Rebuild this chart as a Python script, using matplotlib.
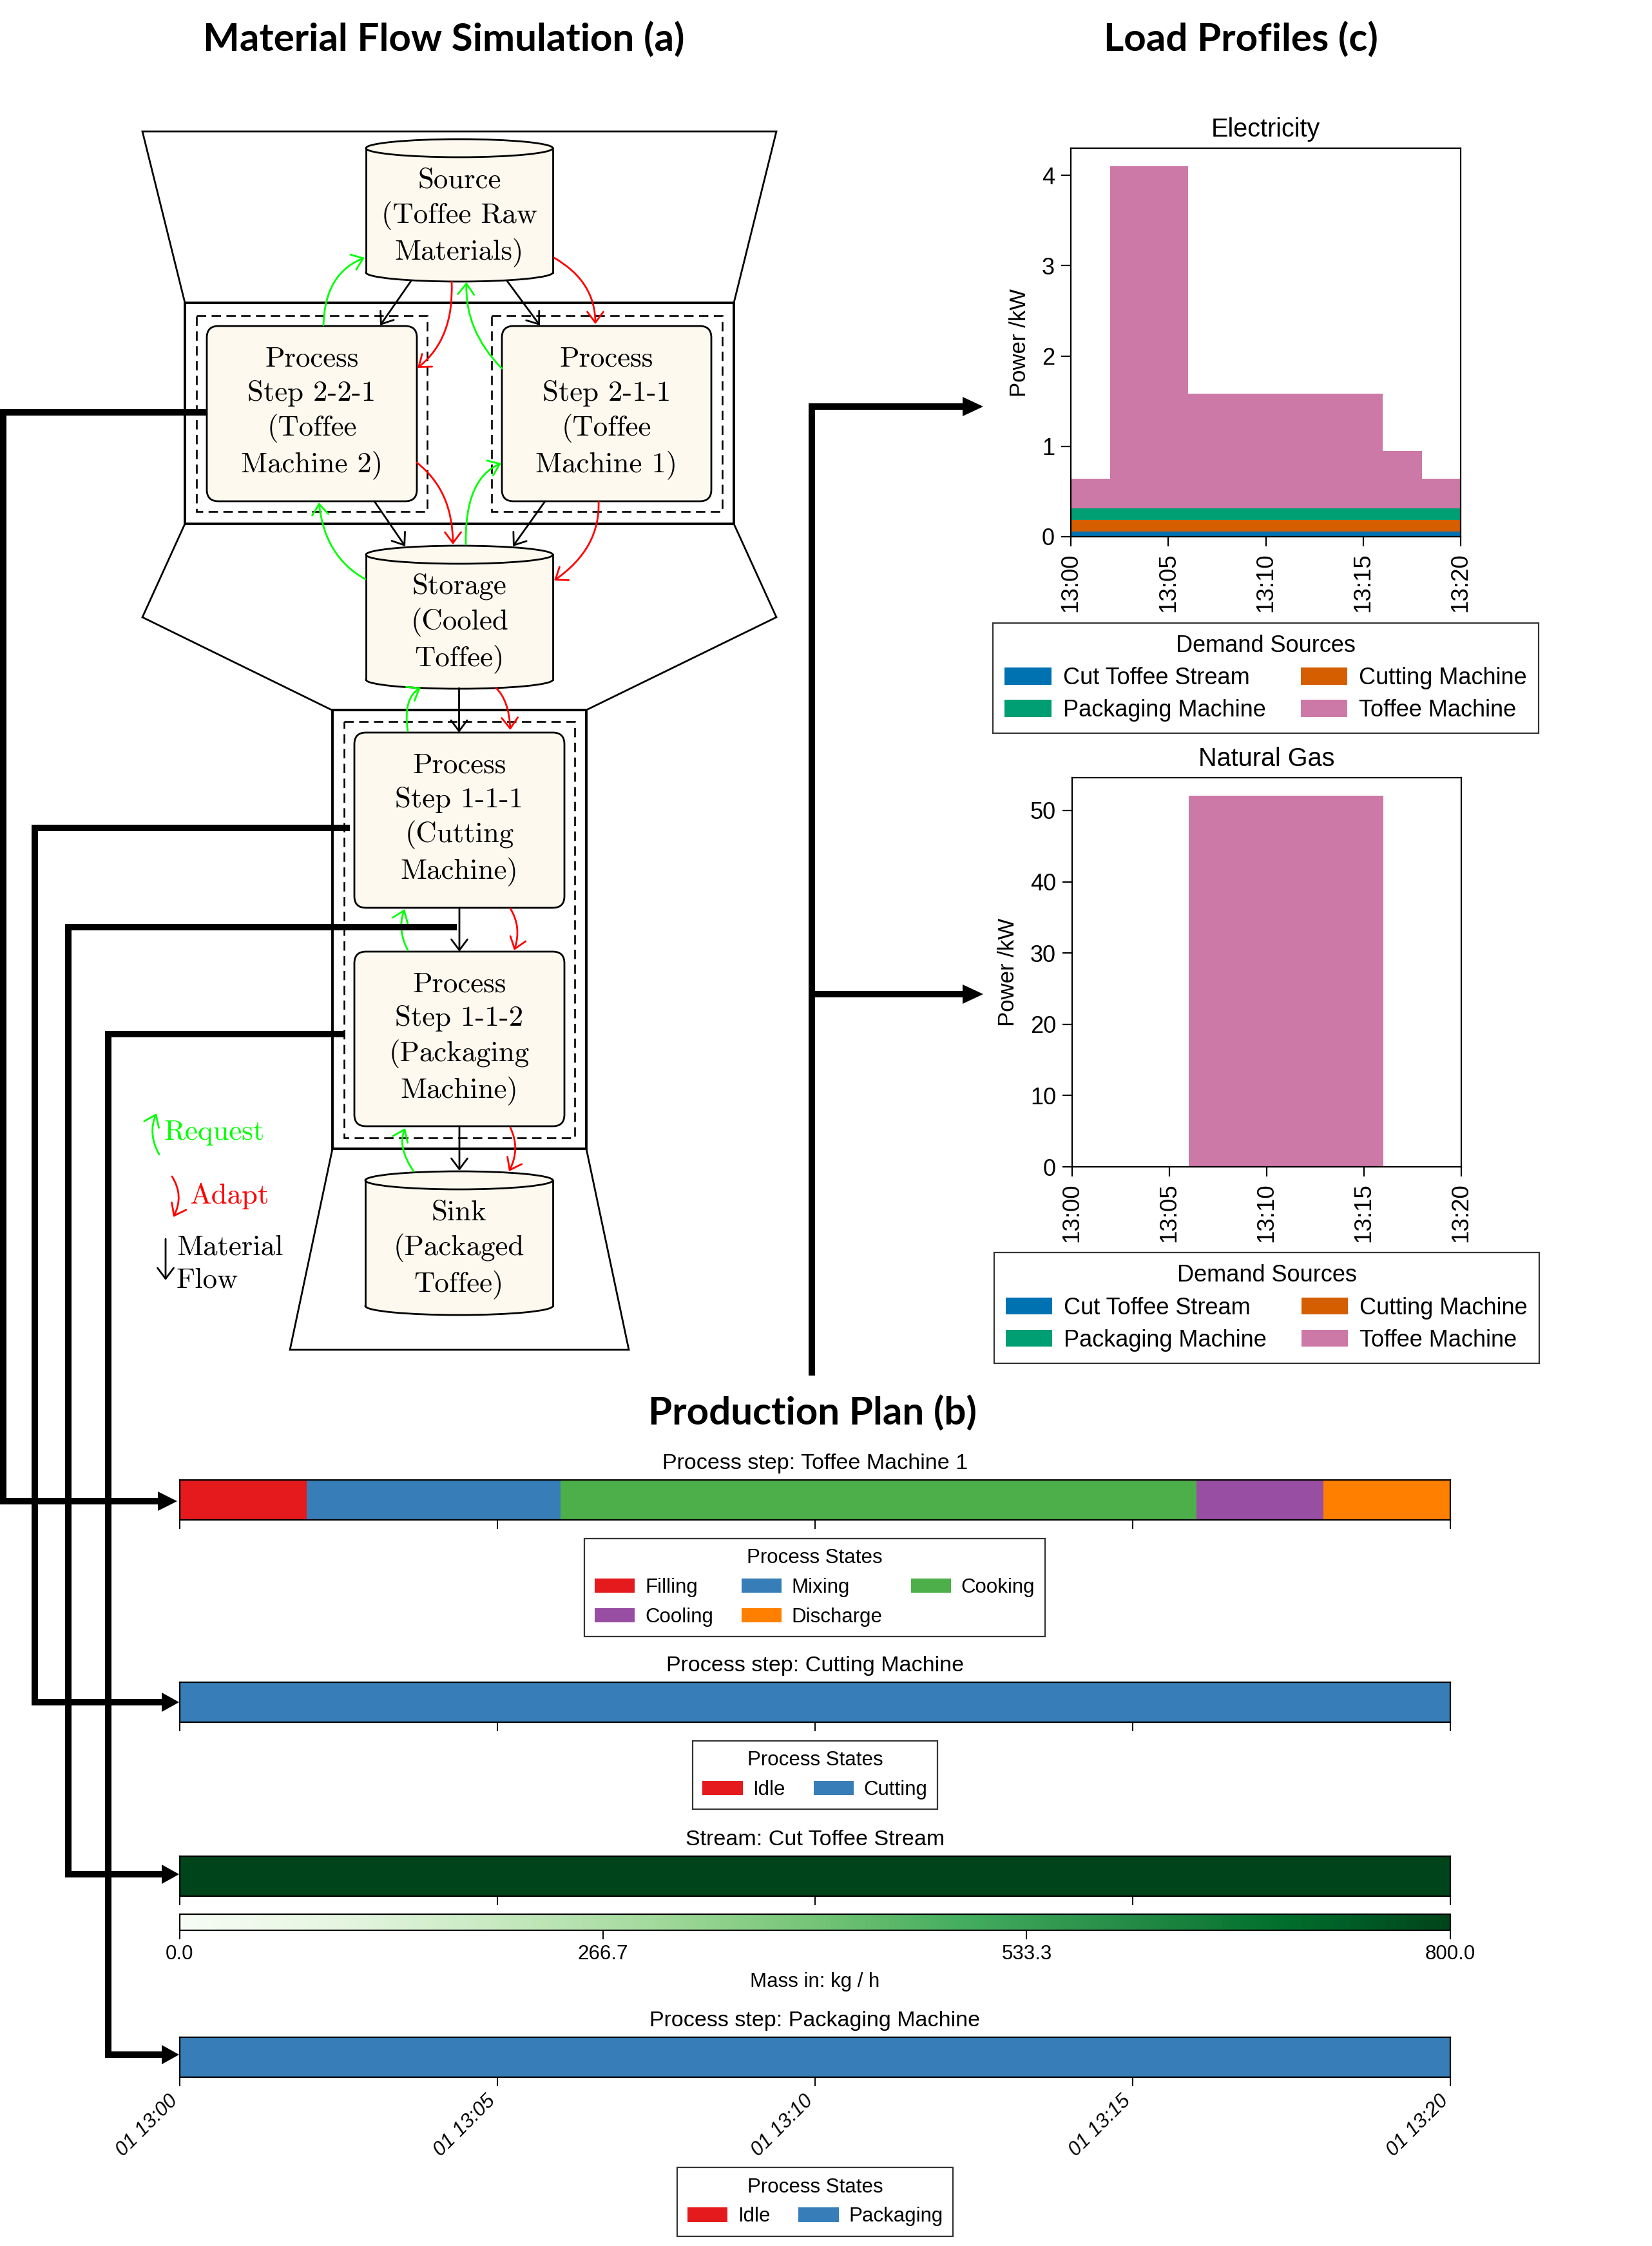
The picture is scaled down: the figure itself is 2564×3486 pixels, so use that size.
import matplotlib
matplotlib.use('Agg')
import matplotlib.pyplot as plt
from matplotlib.cm import ScalarMappable
from matplotlib.colors import Normalize
from matplotlib.patches import Ellipse, FancyArrowPatch, FancyBboxPatch, Patch, Polygon, Rectangle
from matplotlib.path import Path
from matplotlib.transforms import ScaledTranslation

W, H = 2564, 3486
SANS = 'Liberation Sans'
SERIF = 'cmr10'
HEAD = 'Lato'

# load profiles, minutes after 13:00
load_ticks = [0, 5, 10, 15, 20]
load_tick_labels = ['13:00', '13:05', '13:10', '13:15', '13:20']
elec_edges = [0, 2, 6, 16, 18, 20]
elec_cut_stream = [0.055, 0.055, 0.055, 0.055, 0.055, 0.055]
elec_cutting = [0.13, 0.13, 0.13, 0.13, 0.13, 0.13]
elec_packaging = [0.13, 0.13, 0.13, 0.13, 0.13, 0.13]
elec_toffee = [0.325, 3.785, 1.265, 0.635, 0.325, 0.325]
gas_edges = [0, 6, 16, 20]
gas_toffee = [0, 52.1, 0, 0]
elec_yticks = [0, 1, 2, 3, 4]
gas_yticks = [0, 10, 20, 30, 40, 50]

demand_names = ['Cut Toffee Stream', 'Packaging Machine', 'Cutting Machine', 'Toffee Machine']
demand_colors = ['#0072b2', '#009e73', '#d55e00', '#cc79a7']

# production plan, (start, duration) in minutes
toffee_states = ['Filling', 'Mixing', 'Cooking', 'Cooling', 'Discharge']
toffee_starts = [0, 2, 6, 16, 18]
toffee_durations = [2, 4, 10, 2, 2]
toffee_colors = ['#e41a1c', '#377eb8', '#4daf4a', '#984ea3', '#ff7f00']
gantt_ticks = [0, 5, 10, 15, 20]
gantt_tick_labels = ['01 13:00', '01 13:05', '01 13:10', '01 13:15', '01 13:20']
mass_ticks = [0.0, 266.7, 533.3, 800.0]
mass_max = 800.0


def ax_px(l, t, r, b):
    return fig.add_axes([l / W, 1 - b / H, (r - l) / W, (b - t) / H])


def cylinder(ax, x0, x1, top, bottom, ry, label, cy):
    cx = (x0 + x1) / 2
    w = x1 - x0
    ax.add_patch(Ellipse((cx, bottom), w, 2 * ry, fc=CREAM, ec='k', lw=LW, zorder=3))
    ax.add_patch(Rectangle((x0, top), w, bottom - top, fc=CREAM, ec='none', zorder=3))
    ax.plot([x0, x0], [top, bottom], color='k', lw=LW, zorder=3)
    ax.plot([x1, x1], [top, bottom], color='k', lw=LW, zorder=3)
    ax.add_patch(Ellipse((cx, top), w, 2 * ry, fc=CREAM, ec='k', lw=LW, zorder=3))
    box_text(ax, cx, cy, label)


def box_text(ax, x, y, label):
    ax.text(x, y, label, family=SERIF, fontsize=SERIF_SIZE, ha='center', va='center',
            linespacing=LINE_SP, zorder=5)


def process_box(ax, x0, y0, x1, y1, label):
    ax.add_patch(FancyBboxPatch((x0, y0), x1 - x0, y1 - y0,
                                boxstyle='round,pad=0,rounding_size=18',
                                fc=CREAM, ec='k', lw=LW, zorder=3))
    box_text(ax, (x0 + x1) / 2, (y0 + y1) / 2 - 1, label)


def frame(ax, x0, y0, x1, y1, lw, ls='-'):
    ax.add_patch(Rectangle((x0, y0), x1 - x0, y1 - y0, fc='none', ec='k', lw=lw, ls=ls, zorder=2))


def arrow(ax, a, b, c=None, color='k'):
    if c is None:
        c = ((a[0] + b[0]) / 2, (a[1] + b[1]) / 2)
    path = Path([a, c, b], [Path.MOVETO, Path.CURVE3, Path.CURVE3])
    ax.add_patch(FancyArrowPatch(path=path, arrowstyle='->,head_length=1.0,head_width=0.75',
                                 mutation_scale=12, color=color, lw=LW, zorder=4,
                                 shrinkA=0, shrinkB=0))


def thick_link(ax, pts, tip=None, base=None):
    xs = [p[0] for p in pts]
    ys = [p[1] for p in pts]
    ax.plot(xs, ys, color='k', lw=10 * 0.72, solid_capstyle='butt', solid_joinstyle='miter', zorder=6)
    if tip is not None:
        y = pts[-1][1]
        ax.add_patch(Polygon([(base, y - 15), (tip, y), (base, y + 15)], fc='k', ec='k', lw=0, zorder=6))


def style_load(ax, yticks, title):
    ax.set_xlim(0, 20)
    ax.set_xticks(load_ticks)
    ax.set_xticklabels(load_tick_labels, rotation=90, family=SANS, fontsize=26.5)
    ax.set_yticks(yticks)
    ax.tick_params(length=11, width=1.6, labelsize=26, pad=7)
    for lab in ax.get_yticklabels():
        lab.set_family(SANS)
    for lab in ax.get_xticklabels():
        lab.set_fontsize(26.5)
    for s in ax.spines.values():
        s.set_linewidth(1.6)
    ax.set_title(title, family=SANS, fontsize=28.5, pad=13)


def style_gantt(ax, title, show_labels=False):
    ax.set_xlim(0, 20)
    ax.set_ylim(0, 1)
    ax.set_yticks([])
    ax.set_xticks(gantt_ticks)
    ax.tick_params(axis='x', length=10, width=1.4, pad=6)
    if show_labels:
        ax.set_xticklabels(gantt_tick_labels, rotation=45, ha='right', rotation_mode='anchor',
                           family=SANS, fontsize=GANTT_SIZE, style='italic')
        # labels sit further left of their ticks in the original
        shift = ScaledTranslation(-18 / 100, 0, fig.dpi_scale_trans)
        for lab in ax.get_xticklabels():
            lab.set_transform(lab.get_transform() + shift)
    else:
        ax.set_xticklabels([])
    for s in ax.spines.values():
        s.set_linewidth(1.6)
    ax.set_title(title, family=SANS, fontsize=TITLE_SIZE, pad=12)


def make_legend(names, colors, title, cx, cy, ncol, size, hl, hh, colsp, labsp, pad):
    handles = [Patch(fc=c, ec='none') for c in colors]
    leg = fig.legend(handles, names, title=title, ncol=ncol, loc='center',
                     bbox_to_anchor=(cx / W, 1 - cy / H),
                     prop={'family': SANS, 'size': size},
                     title_fontproperties={'family': SANS, 'size': size},
                     handlelength=hl, handleheight=hh, handletextpad=0.5,
                     columnspacing=colsp, labelspacing=labsp, borderpad=pad,
                     fancybox=False, edgecolor='#333333', framealpha=1, borderaxespad=0)
    leg.get_frame().set_linewidth(1.6)
    return leg


CREAM = '#fdf9ef'
LW = 2.0
SERIF_SIZE = 32.3
LINE_SP = 1.365
GANTT_SIZE = 22.5
TITLE_SIZE = 24.5
DASH = (0, (5.5, 3.2))

fig = plt.figure(figsize=(W / 100, H / 100), dpi=100)

# diagram canvas in picture pixels
canvas = fig.add_axes([0, 0, 1, 1])
canvas.set_xlim(0, W)
canvas.set_ylim(H, 0)
canvas.axis('off')

for pts in ([(287, 470), (221, 204), (1205, 204), (1139, 470)],
            [(287, 813), (221, 958), (515, 1102), (910, 1102), (1205, 958), (1139, 813)],
            [(516, 1783), (450, 2095), (976, 2095), (910, 1783)]):
    canvas.add_patch(Polygon(pts, closed=False, fc='none', ec='k', lw=2.0, zorder=1))

frame(canvas, 287, 470, 1139, 813, 2.8)
frame(canvas, 516, 1102, 910, 1783, 2.8)
frame(canvas, 305, 490, 663, 794, 1.9, DASH)
frame(canvas, 763, 490, 1121, 794, 1.9, DASH)
frame(canvas, 533.5, 1119.5, 892, 1765.5, 1.9, DASH)

cylinder(canvas, 568, 858, 230, 423, 14, 'Source\n(Toffee Raw\nMaterials)', 337)
cylinder(canvas, 568, 858, 861, 1055, 14, 'Storage\n(Cooled\nToffee)', 967)
cylinder(canvas, 567, 858, 1832, 2027, 14, 'Sink\n(Packaged\nToffee)', 1939)
process_box(canvas, 321, 506, 647, 778, 'Process\nStep 2-2-1\n(Toffee\nMachine 2)')
process_box(canvas, 779, 506, 1104, 778, 'Process\nStep 2-1-1\n(Toffee\nMachine 1)')
process_box(canvas, 550, 1137, 876, 1409, 'Process\nStep 1-1-1\n(Cutting\nMachine)')
process_box(canvas, 550, 1477, 876, 1748, 'Process\nStep 1-1-2\n(Packaging\nMachine)')

arrow(canvas, (638, 436), (590, 505))
arrow(canvas, (787, 436), (838, 505))
arrow(canvas, (581, 778), (629, 848))
arrow(canvas, (846, 778), (796, 848))
arrow(canvas, (712.5, 1068), (712.5, 1137))
arrow(canvas, (713, 1409), (713, 1477))
arrow(canvas, (713, 1748), (713, 1817))

for a, b, c in (((701, 437), (648, 571), (705, 526)),
                ((860, 400), (924, 503), (924, 437)),
                ((647, 718), (703, 845), (703, 762)),
                ((929, 778), (860, 901), (932, 851)),
                ((770, 1068), (792, 1133), (790, 1087)),
                ((792, 1410), (798, 1475), (810, 1439)),
                ((792, 1750), (790, 1818), (808, 1783))):
    arrow(canvas, a, b, c, '#ff0000')

for a, b, c in (((502, 505), (566, 400), (504, 424)),
                ((779, 572), (724, 438), (721, 513)),
                ((567, 899), (495, 780), (504, 864)),
                ((723, 845), (778, 719), (721, 743)),
                ((633, 1135), (653, 1067), (625, 1084)),
                ((633, 1475), (628, 1411), (616, 1442)),
                ((642, 1818), (629, 1751), (616, 1780))):
    arrow(canvas, a, b, c, '#00ff00')

# key next to the diagram
arrow(canvas, (247, 1792), (243, 1728), (229, 1759), '#00ff00')
arrow(canvas, (267, 1826), (269, 1889), (286, 1856), '#ff0000')
arrow(canvas, (257, 1923), (257, 1987))
canvas.text(254, 1758, 'Request', family=SERIF, fontsize=SERIF_SIZE, color='#00ff00', va='center')
canvas.text(294, 1856, 'Adapt', family=SERIF, fontsize=SERIF_SIZE, color='#ff0000', va='center')
canvas.text(274, 1962, 'Material\nFlow', family=SERIF, fontsize=SERIF_SIZE, va='center', linespacing=LINE_SP)

# connectors between the panels
thick_link(canvas, [(321, 640), (5, 640), (5, 2330), (250, 2330)], 275, 245)
thick_link(canvas, [(543, 1285), (54, 1285), (54, 2642), (255, 2642)], 278, 251)
thick_link(canvas, [(709, 1439), (106, 1439), (106, 2909), (255, 2909)], 278, 251)
thick_link(canvas, [(535, 1605), (168, 1605), (168, 3189), (255, 3189)], 278, 251)
thick_link(canvas, [(1260, 2135), (1260, 631), (1500, 631)], 1526, 1494)
thick_link(canvas, [(1260, 1543), (1500, 1543)], 1526, 1494)

# panel headings
for x, y, s in ((689, 62, 'Material Flow Simulation (a)'),
                (1926, 62, 'Load Profiles (c)'),
                (1261, 2194, 'Production Plan (b)')):
    canvas.text(x, y, s, family=HEAD, weight='bold', fontsize=43.3, ha='center', va='center')

# load profile charts
elec_ax = ax_px(1662, 230, 2267, 833)
elec_ax.stackplot(elec_edges, elec_cut_stream, elec_cutting, elec_packaging, elec_toffee,
                  colors=['#0072b2', '#d55e00', '#009e73', '#cc79a7'], step='post', lw=0)
elec_ax.set_ylim(0, 4.3)
style_load(elec_ax, elec_yticks, 'Electricity')
elec_ax.set_ylabel('Power /kW', family=SANS, fontsize=25, va='center')
elec_ax.yaxis.set_label_coords(-0.132, 0.5)
make_legend(demand_names, demand_colors, 'Demand Sources', 1964.5, 1052.5, 2, 26, 2.0, 0.75, 1.5, 0.42, 0.5)

gas_ax = ax_px(1664, 1207, 2268, 1811)
gas_ax.stackplot(gas_edges, gas_toffee, colors=['#cc79a7'], step='post', lw=0)
gas_ax.set_ylim(0, 54.6)
style_load(gas_ax, gas_yticks, 'Natural Gas')
gas_ax.set_ylabel('Power /kW', family=SANS, fontsize=25, va='center')
gas_ax.yaxis.set_label_coords(-0.164, 0.5)
make_legend(demand_names, demand_colors, 'Demand Sources', 1966, 2030, 2, 26, 2.0, 0.75, 1.5, 0.42, 0.5)

# production plan
toffee_ax = ax_px(278.5, 2297, 2251, 2359)
toffee_ax.broken_barh(list(zip(toffee_starts, toffee_durations)), (0, 1), facecolors=toffee_colors)
style_gantt(toffee_ax, 'Process step: Toffee Machine 1')
make_legend(['Filling', 'Cooling', 'Mixing', 'Discharge', 'Cooking'],
            ['#e41a1c', '#984ea3', '#377eb8', '#ff7f00', '#4daf4a'],
            'Process States', 1264.5, 2464, 3, GANTT_SIZE, 2.0, 0.72, 1.4, 0.5, 0.5)

cut_ax = ax_px(278.5, 2611, 2251, 2673)
cut_ax.broken_barh([(0, 20)], (0, 1), facecolors='#377eb8')
style_gantt(cut_ax, 'Process step: Cutting Machine')
make_legend(['Idle', 'Cutting'], ['#e41a1c', '#377eb8'],
            'Process States', 1265, 2755, 2, GANTT_SIZE, 2.0, 0.72, 1.4, 0.5, 0.5)

stream_ax = ax_px(278.5, 2881, 2251, 2943)
stream_ax.broken_barh([(0, 20)], (0, 1), facecolors='#00441b')
style_gantt(stream_ax, 'Stream: Cut Toffee Stream')

cbar_ax = ax_px(278.5, 2971, 2251, 2996)
cbar = fig.colorbar(ScalarMappable(Normalize(0, mass_max), 'Greens'), cax=cbar_ax,
                    orientation='horizontal', ticks=mass_ticks)
cbar.ax.set_xticklabels([f'{t:.1f}' for t in mass_ticks], family=SANS, fontsize=GANTT_SIZE)
cbar.ax.tick_params(length=10, width=1.4, pad=6)
cbar.outline.set_linewidth(1.6)
cbar.set_label('Mass in: kg / h', family=SANS, fontsize=GANTT_SIZE, labelpad=9)

pack_ax = ax_px(278.5, 3162, 2251, 3223.5)
pack_ax.broken_barh([(0, 20)], (0, 1), facecolors='#377eb8')
style_gantt(pack_ax, 'Process step: Packaging Machine', show_labels=True)
make_legend(['Idle', 'Packaging'], ['#e41a1c', '#377eb8'],
            'Process States', 1265, 3417.5, 2, GANTT_SIZE, 2.0, 0.72, 1.4, 0.5, 0.5)

fig.savefig('out.png', dpi=100, facecolor='white')
